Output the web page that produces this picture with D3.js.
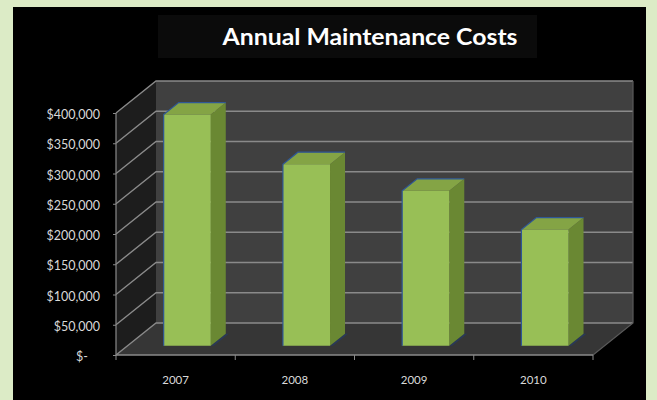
<!DOCTYPE html>
<html>
<head>
<meta charset="utf-8">
<script src="https://cdn.jsdelivr.net/npm/d3@7"></script>
<style>
  html, body { margin: 0; padding: 0; background: #dcebc6; }
  svg { display: block; }
  text { font-family: Lato, "Open Sans", sans-serif; }
</style>
</head>
<body>
<svg id="chart" width="657" height="400"></svg>
<script>
// Annual maintenance costs per year
const categories = ["2007", "2008", "2009", "2010"];
const costs = [382000, 300000, 256000, 192000];
const tickValues = [0, 50000, 100000, 150000, 200000, 250000, 300000, 350000, 400000];
const tickLabels = ["$-", "$50,000", "$100,000", "$150,000", "$200,000", "$250,000", "$300,000", "$350,000", "$400,000"];
const chartTitle = "Annual Maintenance Costs";

const W = 657, H = 400;
const svg = d3.select("#chart");

// page background and black chart area
svg.append("rect").attr("width", W).attr("height", H).attr("fill", "#dcebc6");
svg.append("rect").attr("x", 13).attr("y", 7).attr("width", 633).attr("height", 393).attr("fill", "#000");

// title
svg.append("rect").attr("x", 158).attr("y", 15).attr("width", 379).attr("height", 43).attr("fill", "#0b0b0b");
svg.append("text")
  .attr("x", 370).attr("y", 45)
  .attr("text-anchor", "middle")
  .attr("fill", "#fff")
  .attr("font-weight", "bold")
  .attr("font-size", 22)
  .attr("textLength", 295)
  .attr("lengthAdjust", "spacingAndGlyphs")
  .text(chartTitle);

// front plane scales and the depth offset of the 3-D box
const x0 = 116, x1 = 593;
const DX = 40, DY = 32;
const x = d3.scaleBand().domain(categories).range([x0, x1]).padding(0);
const y = d3.scaleLinear().domain([0, 400000]).range([355, 113]);
const proj = (px, py, d) => [px + d * DX, py - d * DY];

const g = svg.append("g");
const yMin = y(0), yMax = y(400000);

// left wall
g.append("path")
  .attr("d", d3.line()([[x0, yMin], [x0, yMax], proj(x0, yMax, 1), proj(x0, yMin, 1)]))
  .attr("fill", "#1d1d1d");
// back wall
g.append("rect")
  .attr("x", x0 + DX).attr("y", yMax - DY)
  .attr("width", x1 - x0).attr("height", yMin - yMax)
  .attr("fill", "#404040");
// floor
g.append("path")
  .attr("d", d3.line()([[x0, yMin], [x1, yMin], proj(x1, yMin, 1), proj(x0, yMin, 1)]))
  .attr("fill", "#363636");

// gridlines across the left wall and back wall
g.selectAll("path.grid")
  .data(tickValues)
  .join("path")
  .attr("class", "grid")
  .attr("d", v => d3.line()([[x0, y(v)], proj(x0, y(v), 1), proj(x1, y(v), 1)]))
  .attr("fill", "none")
  .attr("stroke", "#8a8a8a")
  .attr("stroke-width", 1.4);

// right edge of the back wall and floor
g.append("path")
  .attr("d", d3.line()([proj(x1, yMax, 1), proj(x1, yMin, 1), [x1, yMin]]))
  .attr("fill", "none").attr("stroke", "#5a5a5a").attr("stroke-width", 1.2);

// front axis lines
g.append("line").attr("x1", x0).attr("x2", x0).attr("y1", yMin).attr("y2", yMax)
  .attr("stroke", "#8a8a8a").attr("stroke-width", 1.2);
g.append("line").attr("x1", x0).attr("x2", x1).attr("y1", yMin).attr("y2", yMin)
  .attr("stroke", "#8a8a8a").attr("stroke-width", 1.4);

// category boundary ticks
g.selectAll("line.ctick")
  .data([...categories.map(c => x(c)), x1])
  .join("line")
  .attr("class", "ctick")
  .attr("x1", d => d).attr("x2", d => d)
  .attr("y1", yMin).attr("y2", yMin + 5)
  .attr("stroke", "#8a8a8a").attr("stroke-width", 1);

// value axis
const yAxis = svg.append("g")
  .attr("transform", `translate(${x0},0)`)
  .call(d3.axisLeft(y).tickValues(tickValues)
    .tickFormat((d, i) => tickLabels[i]).tickSize(3).tickPadding(13));
yAxis.select(".domain").remove();
yAxis.selectAll(".tick line").attr("stroke", "#8a8a8a");
yAxis.selectAll(".tick text")
  .attr("fill", "#d9d9d9")
  .attr("font-size", 12.5)
  .attr("font-family", "Lato, sans-serif")
  .attr("dy", "0.45em")
  .attr("dx", (d) => d === 0 ? -12 : 0);

// category axis
const xAxis = svg.append("g")
  .attr("transform", `translate(0,${yMin})`)
  .call(d3.axisBottom(x).tickSize(0).tickPadding(21));
xAxis.select(".domain").remove();
xAxis.selectAll(".tick text")
  .attr("fill", "#d9d9d9")
  .attr("font-size", 11.5)
  .attr("font-family", "Lato, sans-serif");

// 3-D columns
const f0 = 0.29, f1 = 0.665;
const barW = x.bandwidth() * 0.395;
const bars = g.selectAll("g.bar")
  .data(categories.map((c, i) => ({ c, v: costs[i] })))
  .join("g").attr("class", "bar");

bars.each(function (d) {
  const sel = d3.select(this);
  const cx = x(d.c) + x.bandwidth() / 2;
  const L = cx - barW / 2, R = cx + barW / 2;
  const top = y(d.v), bot = y(0);
  const fTL = proj(L, top, f0), fTR = proj(R, top, f0);
  const fBL = proj(L, bot, f0), fBR = proj(R, bot, f0);
  const bTL = proj(L, top, f1), bTR = proj(R, top, f1);
  const bBR = proj(R, bot, f1);
  // shadow along the floor
  sel.append("path")
    .attr("d", d3.line()([fBR, bBR, proj(R + 3, bot, f1), proj(R + 3, bot, f0)]))
    .attr("fill", "#233a66").attr("opacity", 0.7);
  // side face
  sel.append("path")
    .attr("d", d3.line()([fTR, bTR, bBR, fBR]))
    .attr("fill", "#6a8833");
  // top face
  sel.append("path")
    .attr("d", d3.line()([fTL, bTL, bTR, fTR]))
    .attr("fill", "#84a445");
  // front face
  sel.append("path")
    .attr("d", d3.line()([fTL, fTR, fBR, fBL]))
    .attr("fill", "#98bf56");
  // bluish rim along the upper and left edges
  sel.append("path")
    .attr("d", d3.line()([fBL, fTL, bTL, bTR]))
    .attr("fill", "none").attr("stroke", "#2f5796").attr("stroke-width", 1.2);
});
</script>
</body>
</html>
